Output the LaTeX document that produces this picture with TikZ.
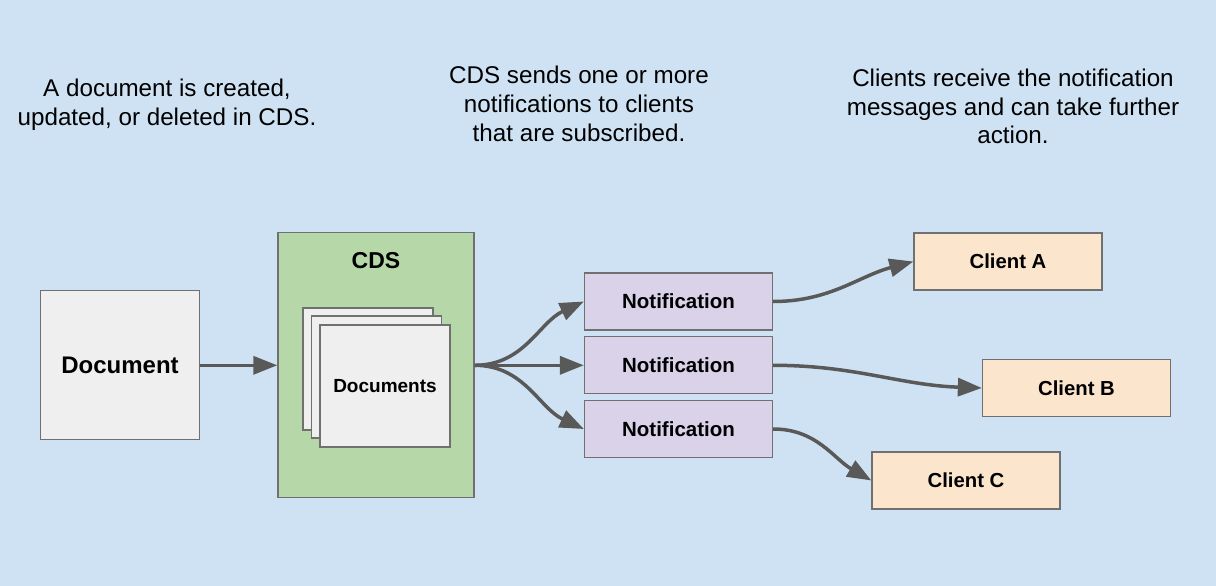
\documentclass[tikz,border=0pt]{standalone}
\usepackage{fontspec}
\setmainfont{Liberation Sans}
\usetikzlibrary{arrows.meta,positioning}
\definecolor{bgblue}{HTML}{CFE2F3}
\definecolor{docgray}{HTML}{EFEFEF}
\definecolor{cdsgreen}{HTML}{B6D7A8}
\definecolor{notepurple}{HTML}{D9D2E9}
\definecolor{clientpeach}{HTML}{FCE5CD}
\definecolor{edgegray}{HTML}{707070}
\definecolor{flowgray}{HTML}{595959}
\begin{document}
\begin{tikzpicture}[x=1pt,y=1pt,
      box/.style={draw=edgegray,line width=1.3pt,inner sep=0pt},
      sheet/.style={box,fill=docgray,minimum width=130,minimum height=122},
      note/.style={box,fill=notepurple,minimum width=188,minimum height=57,font=\fontsize{20.5}{24}\selectfont\bfseries},
      client/.style={box,fill=clientpeach,minimum width=188,minimum height=57,font=\fontsize{20.3}{24}\selectfont\bfseries},
      caption/.style={align=center,font=\fontsize{24.2}{28.8}\selectfont},
      flow/.style={draw=flowgray,line width=3.5pt,-{Triangle[length=24pt,width=18pt]}}]
			\fill[bgblue] (0,0) rectangle (1216,-586);
			\useasboundingbox (0,0) rectangle (1216,-586);
			\node[caption] (t1) at (167,-105) {A document is created,\\updated, or deleted in CDS.};
			\node[caption] (t2) at (579,-104) {CDS sends one or more\\notifications to clients\\that are subscribed.};
			\node[caption] (t3) at (1013,-106.5) {Clients receive the notification\\messages and can take further\\action.};
			\node[box,fill=docgray,minimum width=159,minimum height=149,font=\fontsize{24}{28}\selectfont\bfseries] (doc) at (120,-365.3) {Document};
			\node[box,fill=cdsgreen,minimum width=196,minimum height=265] (cds) at (376,-365.3) {};
			\node[font=\fontsize{23}{27}\selectfont\bfseries] (cdsname) at (376,-261) {CDS};
			\node[sheet] (s1) at (368,-369) {};
			\node[sheet] (s2) at (376.5,-377) {};
			\node[sheet,font=\fontsize{19}{23}\selectfont\bfseries] (s3) at (385,-386) {Documents};
			\node[note] (n1) at (678.5,-301.5) {Notification};
			\node[note] (n2) at (678.5,-365.3) {Notification};
			\node[note] (n3) at (678.5,-429) {Notification};
			\node[client] (ca) at (1008,-261.5) {Client A};
			\node[client] (cb) at (1076.5,-388) {Client B};
			\node[client] (cc) at (966,-480.5) {Client C};
			\draw[flow] (doc) -- (cds);
			\draw[flow] (cds.east) to[out=0,in=205] (n1.west);
			\draw[flow] (cds.east) -- (n2.west);
			\draw[flow] (cds.east) to[out=0,in=155] (n3.west);
			\draw[flow] (n1.east) to[out=0,in=195] (ca.west);
			\draw[flow] (n2.east) to[out=0,in=178] (cb.west);
			\draw[flow] (n3.east) to[out=0,in=150] (cc.west);
		\end{tikzpicture}
\end{document}
